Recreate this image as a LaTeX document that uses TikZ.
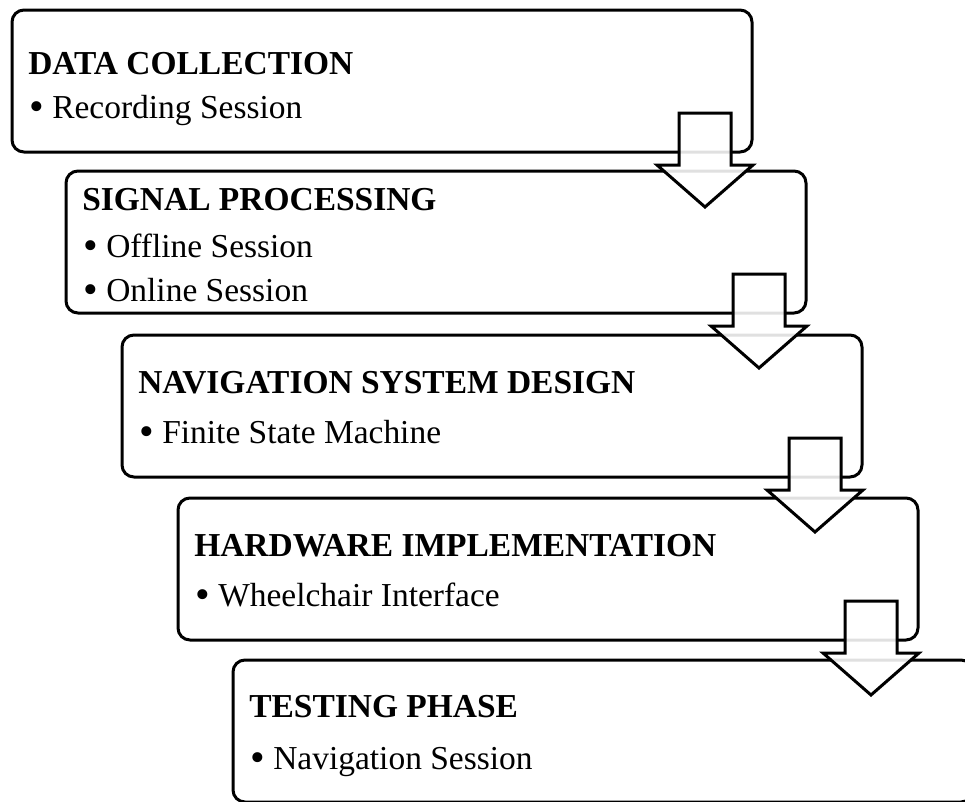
\documentclass[tikz,border=0pt]{standalone}
\usepackage{fontspec}
\setmainfont{Liberation Serif}
\usetikzlibrary{calc}

% bullet followed by a fixed hanging indent
\newcommand\bulletmark{\makebox[20.25pt][l]{\hspace{3pt}\raisebox{-0.06em}{\scalebox{1.25}{•}}}}

% hollow down-pointing block arrow whose shaft top centre is #1
\newcommand\stagearrow[1]{%
  \draw[blockarrow] ($(#1)+(-26,0)$) -- ++(52,0) -- ++(0,52) -- ++(22,0)
    -- ++(-48,42) -- ++(-48,-42) -- ++(22,0) -- cycle;}

\begin{document}
\begin{tikzpicture}[x=0.75pt,y=-0.75pt,
  stage/.style={draw=black, line width=2.25pt, rounded corners=9pt, fill=white,
    minimum width=555pt, minimum height=106.5pt, inner sep=0pt, outer sep=0pt,
    anchor=north west},
  heading/.style={anchor=base west, inner sep=0pt,
    font=\fontsize{25.1}{30}\selectfont\bfseries},
  item/.style={anchor=base west, inner sep=0pt,
    font=\fontsize{25.1}{30}\selectfont},
  blockarrow/.style={draw=black, line width=2.25pt, fill=white,
    fill opacity=0.88, line join=miter}
]
\useasboundingbox (0,0) rectangle (965,801);
\clip (0,0) rectangle (965,801);

% stage boxes
\node[stage] (b1) at (12,10) {};
\node[stage] (b2) at (66,171) {};
\node[stage] (b3) at (122,335) {};
\node[stage] (b4) at (178,498) {};
\node[stage] (b5) at (233,660) {};

% stage texts
\node[heading] (h1) at ($(b1.north west)+(16,64)$) {DATA COLLECTION};
\node[item] (i1) at ($(b1.north west)+(13,108)$) {\bulletmark Recording Session};

\node[heading] (h2) at ($(b2.north west)+(16,39)$) {SIGNAL PROCESSING};
\node[item] (i2a) at ($(b2.north west)+(13,86)$) {\bulletmark Offline Session};
\node[item] (i2b) at ($(b2.north west)+(13,130)$) {\bulletmark Online Session};

\node[heading] (h3) at ($(b3.north west)+(16,58)$) {NAVIGATION SYSTEM DESIGN};
\node[item] (i3) at ($(b3.north west)+(13,108)$) {\bulletmark Finite State Machine};

\node[heading] (h4) at ($(b4.north west)+(16,58)$) {HARDWARE IMPLEMENTATION};
\node[item] (i4) at ($(b4.north west)+(13,108)$) {\bulletmark Wheelchair Interface};

\node[heading] (h5) at ($(b5.north west)+(16,57)$) {TESTING PHASE};
\node[item] (i5) at ($(b5.north west)+(13,109)$) {\bulletmark Navigation Session};

% arrows between consecutive stages
\coordinate (a1) at ($(b1.north east)+(-47,103)$);
\coordinate (a2) at ($(b2.north east)+(-47,103)$);
\coordinate (a3) at ($(b3.north east)+(-47,103)$);
\coordinate (a4) at ($(b4.north east)+(-47,103)$);
\stagearrow{a1}
\stagearrow{a2}
\stagearrow{a3}
\stagearrow{a4}
\end{tikzpicture}
\end{document}
